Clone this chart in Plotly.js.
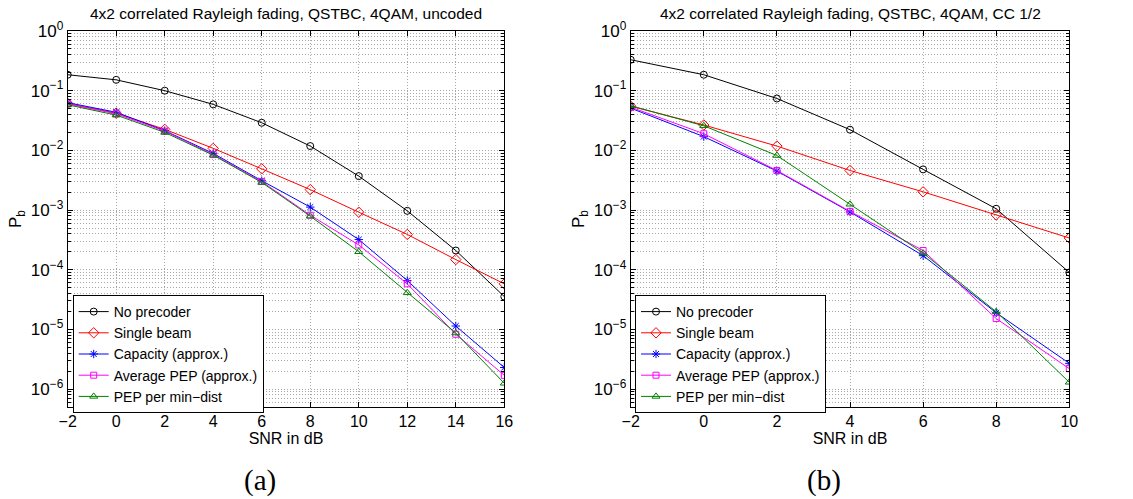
<!DOCTYPE html>
<html><head><meta charset="utf-8">
<script src="https://cdn.plot.ly/plotly-3.0.1.min.js"></script>
<style>html,body{margin:0;padding:0;background:#fff}#chart{width:1133px;height:499px}</style>
</head><body><div id="chart"></div>
<script>
// ----- data: panel (a) uncoded -----
const snrA = [-2, 0, 2, 4, 6, 8, 10, 12, 14, 16];
const noPrecoderA = [0.185, 0.152, 0.100, 0.059, 0.029, 0.0118, 0.0037, 0.00097, 0.00021, 0.0000355];
const singleBeamA = [0.061, 0.042, 0.0225, 0.0108, 0.0049, 0.0022, 0.00092, 0.00039, 0.000148, 0.000058];
const capacityA   = [0.063, 0.0435, 0.0214, 0.0089, 0.0031, 0.00112, 0.00032, 0.000066, 0.0000114, 0.0000023];
const avgPepA     = [0.060, 0.041, 0.021, 0.0085, 0.0030, 0.00082, 0.00026, 0.000058, 0.0000083, 0.0000017];
const pepMinDistA = [0.058, 0.039, 0.020, 0.0083, 0.0029, 0.00079, 0.00020, 0.000041, 0.0000087, 0.00000125];
// ----- data: panel (b) CC 1/2 -----
const snrB = [-2, 0, 2, 4, 6, 8, 10];
const noPrecoderB = [0.33, 0.185, 0.074, 0.0222, 0.0048, 0.00105, 0.00009];
const singleBeamB = [0.055, 0.0266, 0.0118, 0.0046, 0.00202, 0.00083, 0.00034];
const capacityB   = [0.051, 0.0170, 0.0045, 0.00093, 0.000172, 0.000019, 0.0000027];
const avgPepB     = [0.053, 0.0190, 0.0046, 0.00095, 0.00021, 0.0000152, 0.0000022];
const pepMinDistB = [0.056, 0.0258, 0.0082, 0.00125, 0.00019, 0.0000198, 0.0000013];

const seriesNames = ["No precoder", "Single beam", "Capacity (approx.)", "Average PEP (approx.)", "PEP per min\u2212dist"];
const titles = ["4x2 correlated Rayleigh fading, QSTBC, 4QAM, uncoded", "4x2 correlated Rayleigh fading, QSTBC, 4QAM, CC 1/2"];
const captions = ["(a)", "(b)"];
const xTicksA = [-2, 0, 2, 4, 6, 8, 10, 12, 14, 16];
const xTicksB = [-2, 0, 2, 4, 6, 8, 10];
const yDecades = [0, -1, -2, -3, -4, -5, -6];

const colors = ["#000000", "#ff0000", "#0000ff", "#ff00ff", "#008000"];
const symbols = ["circle-open", "diamond-open", "asterisk-open", "square-open", "triangle-up-open"];
const msizes = [7, 8, 7, 6, 7];

function mk(x, ys, xa, ya, leg) {
  return ys.map((y, i) => ({
    x: x, y: y, xaxis: xa, yaxis: ya, legend: leg,
    type: "scatter", mode: "lines+markers", name: seriesNames[i],
    line: {color: colors[i], width: 1},
    marker: {symbol: symbols[i], size: msizes[i], color: colors[i], line: {color: colors[i], width: 1}}
  }));
}
const traces = [
  ...mk(snrA, [noPrecoderA, singleBeamA, capacityA, avgPepA, pepMinDistA], "x", "y", "legend"),
  ...mk(snrB, [noPrecoderB, singleBeamB, capacityB, avgPepB, pepMinDistB], "x2", "y2", "legend2")
];

const majorVals = yDecades.map(d => Math.pow(10, d));
const majorText = yDecades.map(d => "10<sup>" + (d < 0 ? "\u2212" + (-d) : d) + "</sup>");
const minorVals = [];
for (let d = -7; d < 0; d++) for (let k = 2; k <= 9; k++) minorVals.push(k * Math.pow(10, d));

const FONT = "Liberation Sans, Arial, sans-serif";
const GRIDC = "#a8a8a8", GRIDDASH = "1px,2px";
function yax(anchor) {
  return {
    type: "log", range: [-6.3, 0], anchor: anchor,
    tickmode: "array", tickvals: majorVals, ticktext: majorText,
    ticks: "inside", ticklen: 5, tickcolor: "#000", mirror: "ticks",
    showline: true, linecolor: "#000", linewidth: 1,
    showgrid: true, gridcolor: GRIDC, griddash: GRIDDASH, gridwidth: 1,
    minor: {tickmode: "array", tickvals: minorVals, ticks: "inside", ticklen: 3, tickcolor: "#000",
            showgrid: true, gridcolor: GRIDC, griddash: GRIDDASH, gridwidth: 1},
    tickfont: {family: FONT, size: 17, color: "#000"},
    title: {text: "P<sub>b</sub>", font: {family: FONT, size: 17, color: "#000"}, standoff: 4},
    zeroline: false, automargin: false
  };
}
function xax(anchor, dom, ticks) {
  return {
    domain: dom, anchor: anchor, range: [ticks[0], ticks[ticks.length - 1]],
    tickmode: "array", tickvals: ticks,
    ticks: "inside", ticklen: 5, tickcolor: "#000", mirror: "ticks",
    showline: true, linecolor: "#000", linewidth: 1,
    showgrid: true, gridcolor: GRIDC, griddash: GRIDDASH, gridwidth: 1,
    tickfont: {family: FONT, size: 16, color: "#000"},
    title: {text: "SNR in dB", font: {family: FONT, size: 16, color: "#000"}, standoff: 2},
    zeroline: false, automargin: false
  };
}
const domA = [67.7 / 1133, 504.3 / 1133];
const domB = [630.7 / 1133, 1069.3 / 1133];
const legendStyle = (xp) => ({
  x: xp, y: (407 - 295) / 376, xref: "paper", yref: "paper", xanchor: "left", yanchor: "top",
  bgcolor: "#fff", bordercolor: "#000", borderwidth: 1,
  font: {family: FONT, size: 14, color: "#000"}, tracegroupgap: 0, itemwidth: 30
});
const titleFont = {family: FONT, size: 15.5, color: "#000"};
const capFont = {family: "Liberation Serif, serif", size: 29, color: "#000"};
const layout = {
  width: 1133, height: 499,
  margin: {l: 0, r: 0, t: 31, b: 92},
  paper_bgcolor: "#fff", plot_bgcolor: "#fff",
  showlegend: true,
  xaxis: xax("y", domA, xTicksA),
  yaxis: yax("x"),
  xaxis2: xax("y2", domB, xTicksB),
  yaxis2: yax("x2"),
  legend: legendStyle(72.7 / 1133),
  legend2: legendStyle(635 / 1133),
  annotations: [
    {text: titles[0], x: 0.5, y: 1, xref: "x domain", yref: "y domain", xanchor: "center", yanchor: "bottom", yshift: 7, showarrow: false, font: titleFont},
    {text: titles[1], x: 0.5, y: 1, xref: "x2 domain", yref: "y2 domain", xanchor: "center", yanchor: "bottom", yshift: 7, showarrow: false, font: titleFont},
    {text: captions[0], x: 0.44, y: 0, xref: "x domain", yref: "y domain", xanchor: "center", yanchor: "middle", yshift: -73, showarrow: false, font: capFont},
    {text: captions[1], x: 0.44, y: 0, xref: "x2 domain", yref: "y2 domain", xanchor: "center", yanchor: "middle", yshift: -73, showarrow: false, font: capFont}
  ]
};
Plotly.newPlot("chart", traces, layout, {displayModeBar: false, staticPlot: true});
</script></body></html>
